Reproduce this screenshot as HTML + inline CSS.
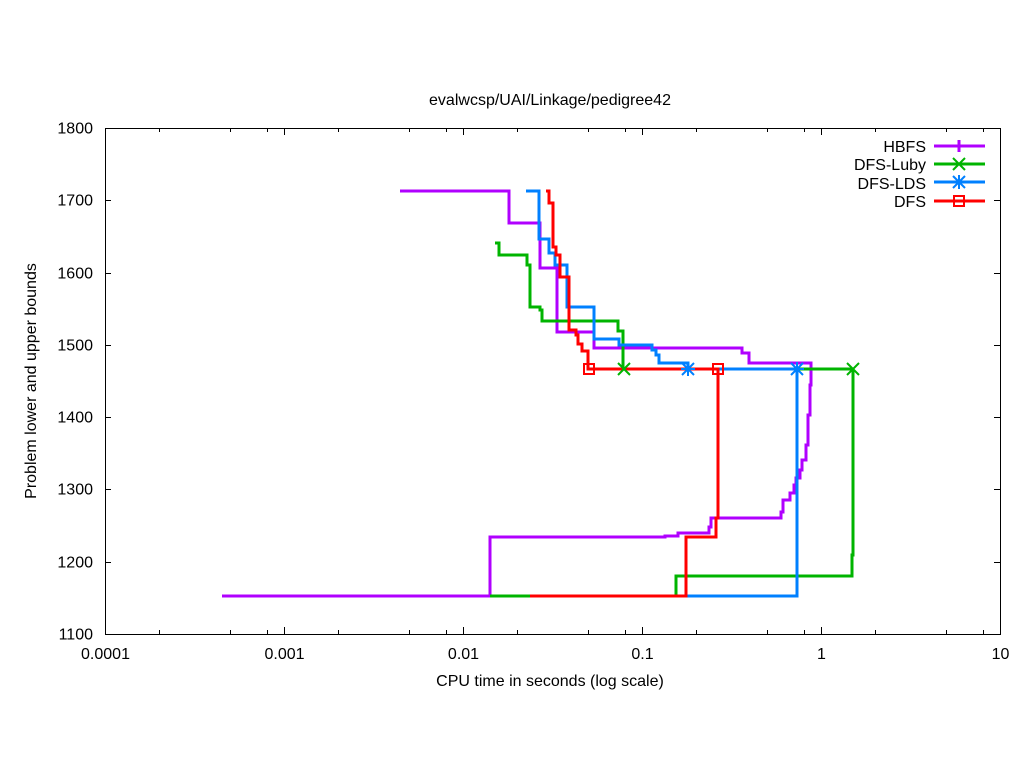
<!DOCTYPE html>
<html><head><meta charset="utf-8"><style>body{margin:0;background:#fff}svg{display:block;font-family:"Liberation Sans",sans-serif;font-size:16px}</style></head>
<body>
<svg id="s" width="1024" height="768" xmlns="http://www.w3.org/2000/svg">
<rect width="1024" height="768" fill="#fff"/>
<g id="ax" stroke="#000" stroke-width="1" fill="none"></g>
<rect x="105.5" y="128.5" width="895" height="506" fill="none" stroke="#000"/>
<g fill="#000">
<text x="550" y="105" text-anchor="middle">evalwcsp/UAI/Linkage/pedigree42</text>
<text x="550" y="686" text-anchor="middle">CPU time in seconds (log scale)</text>
<text transform="translate(36,381) rotate(-90)" text-anchor="middle">Problem lower and upper bounds</text>
</g>
<g id="lab" fill="#000"></g>
<g fill="none" stroke-width="3" stroke-linejoin="miter">
<polyline stroke="#b000ff" points="400,191 509,191 509,223 540,223 540,268 557,268 557,332 594,332 594,348 742,348 742,353 749,353 749,363 811,363 811,385 810,385 810,415 808,415 808,445 806,445 806,460 802,460 802,470 800,470 800,478 796,478 796,485 794,485 794,493 790,493 790,500 783,500 783,512 781,512 781,518 772,518 772,518 711,518 711,527 709,527 709,533 678,533 678,536 665,536 665,537 490,537 490,596 222,596"/>
<polyline stroke="#00b400" points="495,243 499,243 499,255 527,255 527,265 530,265 530,307 540,307 540,310 542,310 542,321 618,321 618,331 623,331 623,369 853,369 853,555 852,555 852,576 676,576 676,596 490,596"/>
<polyline stroke="#0080ff" points="526,191 539,191 539,239 549,239 549,253 555,253 555,265 567,265 567,307 594,307 594,339 619,339 619,345 644,345 652,345 652,350 656,350 656,355 659,355 659,363 688,363 688,369 797,369 797,596 530,596"/>
<polyline stroke="#ff0000" points="546,191 549,191 549,203 553,203 553,247 556,247 556,255 560,255 560,277 569,277 569,330 576,330 576,335 578,335 578,344 582,344 582,351 588,351 588,369 718,369 718,518 716,518 716,537 686,537 686,596 530,596"/>
</g>
<g stroke-width="2" fill="none">
<g stroke="#00b400"><path d="M618,363l12,12M630,363l-12,12M847,363l12,12M859,363l-12,12"/></g>
<g stroke="#0080ff"><path d="M682,363l12,12M694,363l-12,12M688,362v14M681,369h14M791,363l12,12M803,363l-12,12M797,362v14M790,369h14"/></g>
<g stroke="#ff0000"><rect x="584" y="364" width="10" height="10"/><rect x="713" y="364" width="10" height="10"/></g>
</g>
<g fill="#000" text-anchor="end">
<text x="926" y="152">HBFS</text><text x="926" y="170">DFS-Luby</text><text x="926" y="189">DFS-LDS</text><text x="926" y="207">DFS</text>
</g>
<g stroke-width="3"><path d="M934,146h51M959,140v12" stroke="#b000ff"/><path d="M934,164h51" stroke="#00b400"/><path d="M934,182h51" stroke="#0080ff"/><path d="M934,201h51" stroke="#ff0000"/></g>
<g stroke-width="2" fill="none"><path d="M953,158l12,12M965,158l-12,12" stroke="#00b400"/><path d="M953,176l12,12M965,176l-12,12M959,175v14M952,182h14" stroke="#0080ff"/><rect x="954" y="196" width="10" height="10" stroke="#ff0000"/></g>
</svg>
<script>
var ax=document.getElementById('ax'),lab=document.getElementById('lab'),d='',t='';
for(var i=0;i<=7;i++){var y=634-i*100*0.72286;y=Math.round(y)+.5;d+='M105,'+y+'h6M1000,'+y+'h-6';t+='<text x="93" y="'+(y+5)+'" text-anchor="end">'+(1100+i*100)+'</text>';}
var L=['0.0001','0.001','0.01','0.1','1','10'];
for(var k=0;k<=5;k++){var x=Math.round(105+k*179)+.5;d+='M'+x+',634v-7M'+x+',128v7';t+='<text x="'+x+'" y="659" text-anchor="middle">'+L[k]+'</text>';
if(k<5)[2,5,8].forEach(function(m){var xx=Math.round(105+(k+Math.log10(m))*179)+.5;d+='M'+xx+',634v-4M'+xx+',128v4';});}
ax.innerHTML='<path d="'+d+'"/>';lab.innerHTML=t;
</script>
</body></html>
